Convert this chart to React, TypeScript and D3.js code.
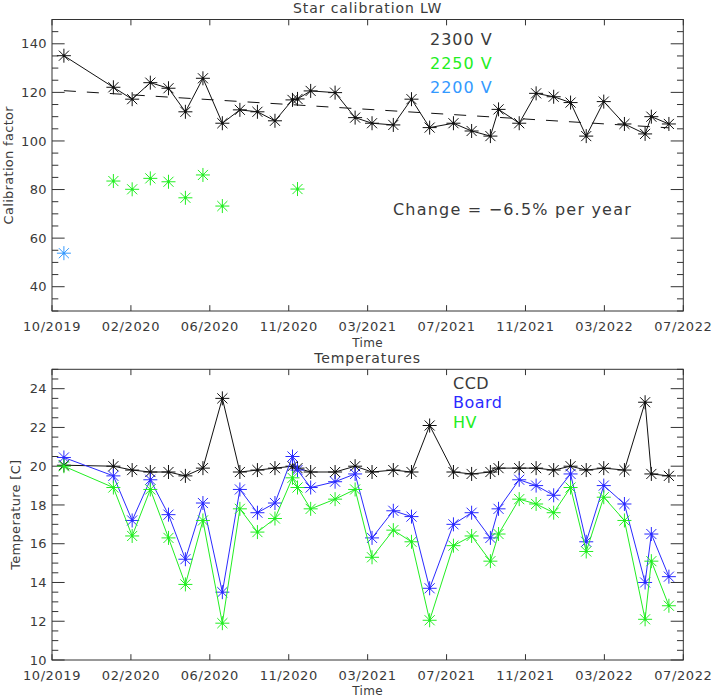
import React from 'react';
import * as d3 from 'd3';

// ---------- data ----------
const dates = [
  '2019-11-09', '2020-01-27', '2020-02-26', '2020-03-26', '2020-04-24', '2020-05-21',
  '2020-06-18', '2020-07-19', '2020-08-16', '2020-09-13', '2020-10-11', '2020-11-08',
  '2020-11-16', '2020-12-07', '2021-01-15', '2021-02-16', '2021-03-15', '2021-04-18',
  '2021-05-17', '2021-06-15', '2021-07-23', '2021-08-21', '2021-09-20', '2021-10-03',
  '2021-11-05', '2021-12-02', '2021-12-30', '2022-01-26', '2022-02-20', '2022-03-20',
  '2022-04-22', '2022-05-25', '2022-06-04', '2022-07-02',
];

const calib2300 = [
  135.1, 122.1, 117.2, 124.0, 121.7, 112.0, 125.8, 107.3, 112.8, 112.0, 108.3, 116.9,
  117.3, 120.6, 119.9, 109.6, 107.3, 106.6, 117.2, 105.5, 107.3, 104.1, 102.0, 113.0,
  107.3, 119.6, 118.2, 115.8, 102.0, 116.2, 107.0, 102.9, 110.0, 107.0,
];

const calib2250Dates = ['2020-01-27', '2020-02-26', '2020-03-26', '2020-04-24', '2020-05-21', '2020-06-18', '2020-07-19', '2020-11-16'];
const calib2250 = [83.5, 80.1, 84.6, 83.2, 76.6, 86.0, 73.2, 80.2];

const calib2200Dates = ['2019-11-09'];
const calib2200 = [53.8];

const trendDates = ['2019-11-09', '2022-07-02'];
const trendValues = [120.7, 105.4];

const tempCCD = [
  20.05, 20.0, 19.8, 19.7, 19.7, 19.5, 19.9, 23.5, 19.7, 19.8, 19.9, 20.0,
  19.9, 19.7, 19.7, 20.0, 19.7, 19.8, 19.7, 22.1, 19.7, 19.6, 19.7, 19.9,
  19.9, 19.9, 19.8, 20.0, 19.8, 19.9, 19.8, 23.3, 19.6, 19.5,
];
const tempBoard = [
  20.45, 19.5, 17.2, 19.3, 17.5, 15.2, 18.1, 13.5, 18.8, 17.6, 18.1, 20.5,
  19.8, 18.9, 19.2, 19.6, 16.3, 17.7, 17.4, 13.7, 17.0, 17.6, 16.3, 17.8,
  19.3, 19.0, 18.5, 19.6, 16.1, 19.0, 18.05, 14.0, 16.5, 14.3,
];
const tempHV = [
  20.0, 18.9, 16.4, 18.8, 16.3, 13.9, 17.2, 11.9, 17.8, 16.6, 17.3, 19.4,
  18.9, 17.8, 18.3, 18.8, 15.3, 16.7, 16.1, 12.05, 15.9, 16.4, 15.1, 16.5,
  18.3, 18.05, 17.6, 18.9, 15.6, 18.4, 17.2, 12.1, 15.1, 12.8,
];

const xTickLabels = ['10/2019', '02/2020', '06/2020', '11/2020', '03/2021', '07/2021', '11/2021', '03/2022', '07/2022'];
const calibTicks = [40, 60, 80, 100, 120, 140];
const tempTicks = [10, 12, 14, 16, 18, 20, 22, 24];
const calibLegend = ['2300 V', '2250 V', '2200 V'];
const tempLegend = ['CCD', 'Board', 'HV'];

// ---------- layout ----------
const W = 713;
const H = 697;
const L = 52;
const R = 683.3;
const T1 = 19.5;
const B1 = 311;
const T2 = 369.3;
const B2 = 660;
const FONT = 'DejaVu Sans, sans-serif';
const TXT = '#3a3a3a';
const AX = '#333';
const C_BLACK = '#111';
const C_GREEN = '#22ee22';
const C_SKY = '#3399ff';
const C_BLUE = '#2a2aff';

const parse = d3.utcParse('%Y-%m-%d');
const xStart = parse('2019-10-21')!;
const xEnd = parse('2022-07-25')!;
const x = d3.scaleUtc().domain([xStart, xEnd]).range([L, R]);
const tickDates = d3.range(xTickLabels.length).map(
  (i) => new Date(+xStart + (i * (+xEnd - +xStart)) / (xTickLabels.length - 1))
);

const y1 = d3.scaleLinear().domain([30, 150]).range([B1, T1]);
const y2 = d3.scaleLinear().domain([10, 25]).range([B2, T2]);

function Star({ cx, cy, color }: { cx: number; cy: number; color: string }) {
  const r = 7;
  const d = r * 0.72;
  return (
    <g stroke={color} strokeWidth={1}>
      <line x1={cx - r} y1={cy} x2={cx + r} y2={cy} />
      <line x1={cx} y1={cy - r} x2={cx} y2={cy + r} />
      <line x1={cx - d} y1={cy - d} x2={cx + d} y2={cy + d} />
      <line x1={cx - d} y1={cy + d} x2={cx + d} y2={cy - d} />
      <rect x={cx - 1.2} y={cy - 1.2} width={2.4} height={2.4} fill={color} stroke="none" />
    </g>
  );
}

function Frame({
  top, bottom, y, majors, minorStep, title, ylabel, ylabelX, timeY,
}: {
  top: number; bottom: number; y: d3.ScaleLinear<number, number>; majors: number[];
  minorStep: number; title: string; ylabel: string; ylabelX: number; timeY: number;
}) {
  const [d0, d1] = y.domain();
  const minors = d3.range(d0, d1 + 1e-9, minorStep).filter(
    (v) => !majors.some((m) => Math.abs(m - v) < 1e-6)
  );
  const ph = bottom - top;
  const pw = R - L;
  const yMaj = 0.02 * pw;
  const yMin = yMaj / 2;
  const xMaj = 0.02 * ph;
  const cy = (top + bottom) / 2;
  return (
    <g>
      <rect x={L} y={top} width={R - L} height={bottom - top} fill="none" stroke={AX} strokeWidth={1} />
      {majors.map((v) => (
        <g key={'M' + v} stroke={AX}>
          <line x1={L} x2={L + yMaj} y1={y(v)} y2={y(v)} />
          <line x1={R} x2={R - yMaj} y1={y(v)} y2={y(v)} />
        </g>
      ))}
      {minors.map((v) => (
        <g key={'m' + v} stroke={AX}>
          <line x1={L} x2={L + yMin} y1={y(v)} y2={y(v)} />
          <line x1={R} x2={R - yMin} y1={y(v)} y2={y(v)} />
        </g>
      ))}
      {majors.map((v) => (
        <text key={'t' + v} x={L - 5} y={y(v)} dy="0.36em" textAnchor="end" fontSize={13}
          fontFamily={FONT} fill={TXT} letterSpacing={0.4}>{v}</text>
      ))}
      {tickDates.map((d, i) => (
        <g key={'x' + i} stroke={AX}>
          <line x1={x(d)} x2={x(d)} y1={bottom} y2={bottom - xMaj} />
          <line x1={x(d)} x2={x(d)} y1={top} y2={top + xMaj} />
        </g>
      ))}
      {tickDates.map((d, i) => (
        <text key={'xl' + i} x={x(d)} y={bottom + 19.5} textAnchor="middle" fontSize={13}
          fontFamily={FONT} fill={TXT} letterSpacing={0.6}>{xTickLabels[i]}</text>
      ))}
      <text x={(L + R) / 2} y={timeY} textAnchor="middle" fontSize={12} fontFamily={FONT}
        fill={TXT} letterSpacing={0.4}>Time</text>
      <text x={(L + R) / 2} y={top - 6.5} textAnchor="middle" fontSize={14} fontFamily={FONT}
        fill={TXT} letterSpacing={0.9}>{title}</text>
      <text transform={`translate(${ylabelX},${cy}) rotate(-90)`} textAnchor="middle" dy="0.36em"
        fontSize={13} fontFamily={FONT} fill={TXT} letterSpacing={0.3}>{ylabel}</text>
    </g>
  );
}

function Series({ ds, vs, y, color, line }: {
  ds: string[]; vs: number[]; y: d3.ScaleLinear<number, number>; color: string; line: boolean;
}) {
  const pts = ds.map((d, i) => [x(parse(d)!), y(vs[i])] as [number, number]);
  const path = d3.line()(pts) || '';
  return (
    <g>
      {line && <path d={path} fill="none" stroke={color} strokeWidth={1} />}
      {pts.map((p, i) => <Star key={i} cx={p[0]} cy={p[1]} color={color} />)}
    </g>
  );
}

export default function App() {
  const trendPath = d3.line()(trendDates.map((d, i) => [x(parse(d)!), y1(trendValues[i])] as [number, number])) || '';
  const calibColors = [TXT, C_GREEN, C_SKY];
  const tempColors = [TXT, C_BLUE, C_GREEN];
  return (
    <svg width={W} height={H} style={{ position: 'absolute', left: 0, top: 0, background: '#fff' }}>
      <rect width={W} height={H} fill="#fff" />
      <Frame top={T1} bottom={B1} y={y1} majors={calibTicks} minorStep={5}
        title="Star calibration LW" ylabel="Calibration factor" ylabelX={8} timeY={346.5} />
      <path d={trendPath} fill="none" stroke={C_BLACK} strokeWidth={1} strokeDasharray="12,11" />
      <Series ds={dates} vs={calib2300} y={y1} color={C_BLACK} line />
      <Series ds={calib2250Dates} vs={calib2250} y={y1} color={C_GREEN} line={false} />
      <Series ds={calib2200Dates} vs={calib2200} y={y1} color={C_SKY} line={false} />
      {calibLegend.map((t, i) => (
        <text key={t} x={430} y={45 + i * 24} fontSize={16} fontFamily={FONT} fill={calibColors[i]}
          letterSpacing={1}>{t}</text>
      ))}
      <text x={393} y={215} fontSize={16} fontFamily={FONT} fill={TXT} letterSpacing={1.2}>
        Change = −6.5% per year
      </text>

      <Frame top={T2} bottom={B2} y={y2} majors={tempTicks} minorStep={0.5}
        title="Temperatures" ylabel="Temperature [C]" ylabelX={15} timeY={695} />
      <Series ds={dates} vs={tempCCD} y={y2} color={C_BLACK} line />
      <Series ds={dates} vs={tempBoard} y={y2} color={C_BLUE} line />
      <Series ds={dates} vs={tempHV} y={y2} color={C_GREEN} line />
      {tempLegend.map((t, i) => (
        <text key={t} x={453} y={389 + i * 19.3} fontSize={16} fontFamily={FONT} fill={tempColors[i]}
          letterSpacing={0.5}>{t}</text>
      ))}
    </svg>
  );
}
